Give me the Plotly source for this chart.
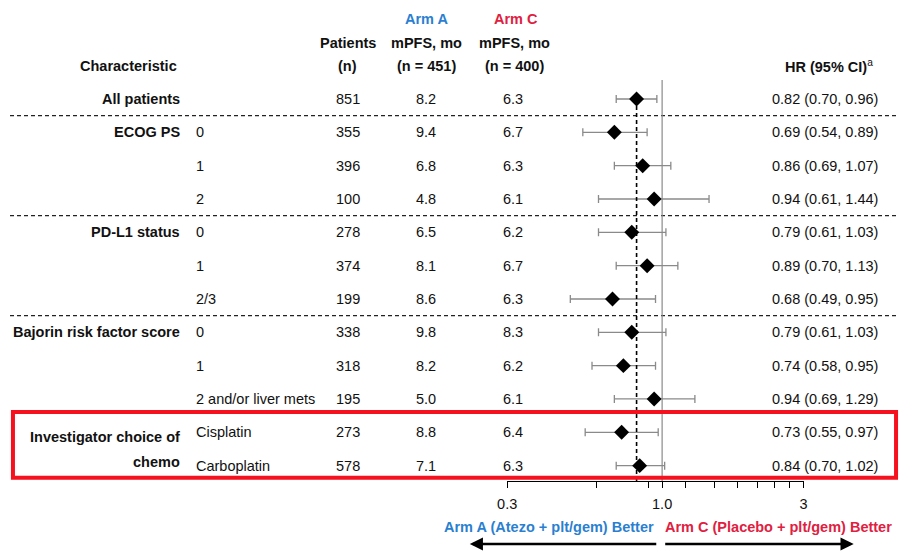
import math
import plotly.graph_objects as go

# ---------------- data ----------------
group_labels = ["All patients", "ECOG PS", "", "", "PD-L1 status", "", "",
                "Bajorin risk factor score", "", "", "Investigator choice of|chemo", ""]
sub_labels = ["", "0", "1", "2", "0", "1", "2/3", "0", "1", "2 and/or liver mets",
              "Cisplatin", "Carboplatin"]
patients = [851, 355, 396, 100, 278, 374, 199, 338, 318, 195, 273, 578]
arm_a_mpfs = ["8.2", "9.4", "6.8", "4.8", "6.5", "8.1", "8.6", "9.8", "8.2", "5.0", "8.8", "7.1"]
arm_c_mpfs = ["6.3", "6.7", "6.3", "6.1", "6.2", "6.7", "6.3", "8.3", "6.2", "6.1", "6.4", "6.3"]
hr = [0.82, 0.69, 0.86, 0.94, 0.79, 0.89, 0.68, 0.79, 0.74, 0.94, 0.73, 0.84]
ci_low = [0.70, 0.54, 0.69, 0.61, 0.61, 0.70, 0.49, 0.61, 0.58, 0.69, 0.55, 0.70]
ci_high = [0.96, 0.89, 1.07, 1.44, 1.03, 1.13, 0.95, 1.03, 0.95, 1.29, 0.97, 1.02]
separators_after = [0, 3, 6]
highlight_rows = [10, 11]
tick_vals = [0.3, 0.6, 0.9, 1.0, 1.2, 1.5, 1.8, 2.1, 2.4, 2.7, 3.0]
tick_text = ["0.3", "", "", "1.0", "", "", "", "", "", "", "3"]
overall_hr = hr[0]

# ---------------- layout constants ----------------
W, H = 903, 552
AX_Y = 481          # pixel row of x axis line
ROW0, ROWH = 99, 33.33
FONT = "Liberation Sans, Arial, sans-serif"
BLUE = "#2b7fd0"
RED = "#e0203f"
BOXRED = "#f5121e"
TXT = "#111111"
FS = 14.5

def row_of(px):
    return (px - ROW0) / ROWH

def xp(px):
    return px / W

def yp(py):
    return 1 - py / H

n = len(hr)
rows = list(range(n))

fig = go.Figure()
fig.add_trace(go.Scatter(
    x=hr, y=rows, mode="markers",
    marker=dict(symbol="diamond", size=11.5, color="black"),
    error_x=dict(type="data", symmetric=False,
                 array=[h - m for h, m in zip(ci_high, hr)],
                 arrayminus=[m - l for m, l in zip(hr, ci_low)],
                 color="#8a8a8a", thickness=1.3, width=4),
    showlegend=False, hoverinfo="skip"))

ann = []

def text(x, y, s, xanchor="center", color=TXT, yref="paper", size=FS):
    ann.append(dict(x=x, y=y, xref="paper", yref=yref, text=s, showarrow=False,
                    xanchor=xanchor, yanchor="middle",
                    font=dict(family=FONT, size=size, color=color)))

# headers
text(xp(120), yp(66), "<b>Characteristic</b>")
text(xp(343), yp(43), "<b>Patients</b>")
text(xp(343), yp(66), "<b>(n)</b>")
text(xp(423), yp(19), "<b>Arm A</b>", color=BLUE)
text(xp(423), yp(43), "<b>mPFS, mo</b>")
text(xp(423), yp(66), "<b>(n = 451)</b>")
text(xp(514), yp(19), "<b>Arm C</b>", color=RED)
text(xp(512), yp(43), "<b>mPFS, mo</b>")
text(xp(512), yp(66), "<b>(n = 400)</b>")
text(xp(832), yp(66), "<b>HR (95% CI)</b><sup>a</sup>")

# rows
for i in rows:
    g = group_labels[i]
    if g:
        parts = g.split("|")
        if len(parts) == 1:
            text(xp(175), i, "<b>%s</b>" % g, xanchor="right", yref="y")
        else:
            text(xp(175), i + 0.15, "<b>%s</b>" % parts[0], xanchor="right", yref="y")
            text(xp(175), i + 0.9, "<b>%s</b>" % parts[1], xanchor="right", yref="y")
    if sub_labels[i]:
        text(xp(187), i, sub_labels[i], xanchor="left", yref="y")
    text(xp(343), i, str(patients[i]), yref="y")
    text(xp(423), i, arm_a_mpfs[i], yref="y")
    text(xp(511), i, arm_c_mpfs[i], yref="y")
    text(xp(828), i, "%.2f (%.2f, %.2f)" % (hr[i], ci_low[i], ci_high[i]), yref="y")

# bottom favour labels
text(xp(547), yp(527), "<b>Arm A (Atezo + plt/gem) Better</b>", color=BLUE)
text(xp(781), yp(527), "<b>Arm C (Placebo + plt/gem) Better</b>", color=RED)
for head, tail in [(467, 655), (857, 667)]:
    ann.append(dict(x=xp(head), y=yp(544), xref="paper", yref="paper", text="",
                    showarrow=True, ax=tail - head, ay=0, arrowhead=2, arrowsize=1.1,
                    arrowwidth=2.4, arrowcolor="black"))

shapes = []
for s in separators_after:
    shapes.append(dict(type="line", xref="paper", yref="y", x0=0, x1=1, y0=s + 0.5, y1=s + 0.5,
                       line=dict(color="#222222", width=1.3, dash="4px,3px")))
# line of no effect
shapes.append(dict(type="line", xref="x", yref="paper", x0=1, x1=1, y0=yp(AX_Y), y1=yp(80),
                   line=dict(color="#8a8a8a", width=1.2)))
# overall HR dashed line
shapes.append(dict(type="line", xref="x", yref="y", x0=overall_hr, x1=overall_hr,
                   y0=0, y1=row_of(AX_Y), line=dict(color="black", width=1.6, dash="4px,3px")))
# highlight box
shapes.append(dict(type="rect", xref="paper", yref="y", x0=xp(3), x1=xp(900),
                   y0=highlight_rows[0] - 0.61, y1=highlight_rows[-1] + 0.36,
                   line=dict(color=BOXRED, width=4), fillcolor="rgba(0,0,0,0)"))

fig.update_layout(
    width=W, height=H, margin=dict(l=0, r=0, t=0, b=0),
    paper_bgcolor="white", plot_bgcolor="rgba(0,0,0,0)",
    font=dict(family=FONT, size=FS, color=TXT),
    xaxis=dict(type="log", range=[math.log10(0.3), math.log10(3)],
               domain=[xp(505), xp(806)], tickvals=tick_vals, ticktext=tick_text,
               ticks="outside", ticklen=6, tickcolor="black", tickwidth=1,
               showline=True, linecolor="black", linewidth=1,
               showgrid=False, zeroline=False, ticklabelstandoff=4,
               tickfont=dict(family=FONT, size=FS, color=TXT)),
    yaxis=dict(domain=[yp(AX_Y), 1], range=[row_of(AX_Y), row_of(0)],
               visible=False, showgrid=False, zeroline=False),
    annotations=ann, shapes=shapes,
)

fig.write_html("out.html", config={"displayModeBar": False},
               post_script="document.body.style.margin='0';document.body.style.overflow='hidden';")
